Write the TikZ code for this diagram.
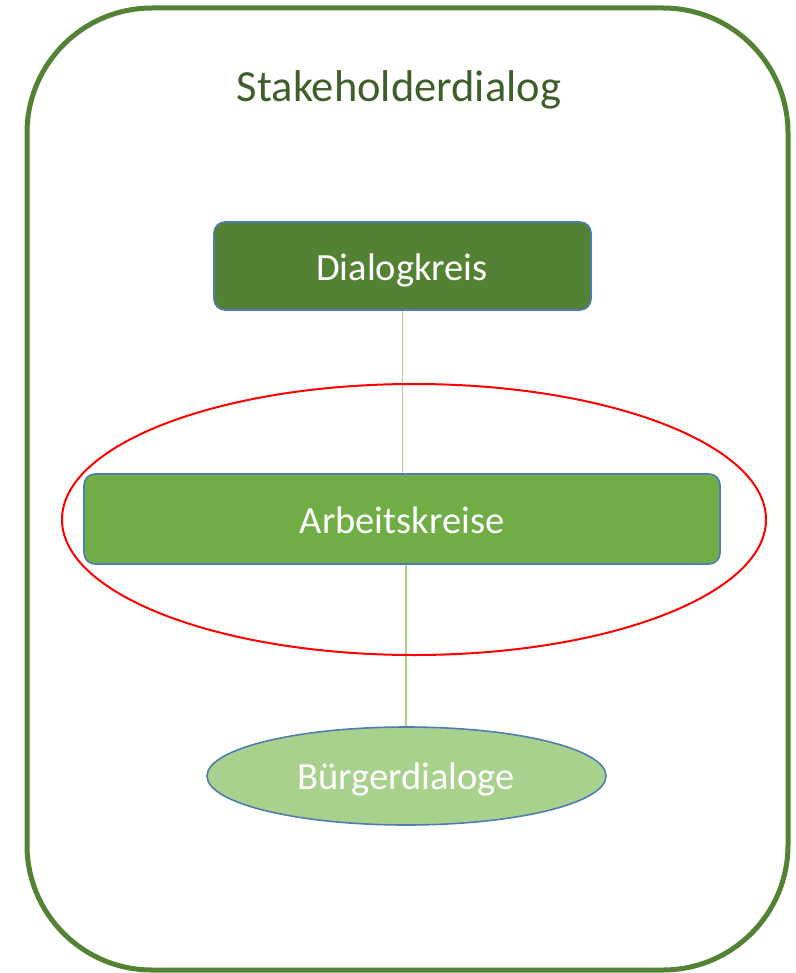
\documentclass[tikz,border=0pt]{standalone}
\usepackage{fontspec}
\setmainfont{Carlito}
\usetikzlibrary{shapes.geometric}
\definecolor{frame}{HTML}{548235}
\definecolor{titlegreen}{HTML}{3E5F2A}
\definecolor{darkfill}{HTML}{548235}
\definecolor{midfill}{HTML}{70AD47}
\definecolor{lightfill}{HTML}{A9D18E}
\definecolor{edgeblue}{HTML}{4F7DB0}
\definecolor{linkgreen}{HTML}{A9D18E}
\tikzset{
  levelbox/.style={draw=edgeblue, line width=1.6pt, rounded corners=11pt, inner sep=0pt},
  citizen/.style={ellipse, draw=edgeblue, line width=1.6pt, fill=lightfill, inner sep=0pt},
  boxtext/.style={text=white, font=\fontsize{38.5}{44}\selectfont, anchor=base},
  link/.style={draw=linkgreen, line width=1.8pt},
  focus/.style={ellipse, draw=red, line width=2pt, inner sep=0pt}
}
\begin{document}
\begin{tikzpicture}[x=1pt, y=-1pt]
  \useasboundingbox (0,0) rectangle (795,973);
  % outer frame
  \draw[frame, line width=5pt, rounded corners=125pt] (27,8) rectangle (788,970);
  \node[text=titlegreen, font=\fontsize{44.5}{52}\selectfont, anchor=base] (title) at (399,101.5) {Stakeholderdialog};

  % hierarchy levels
  \node[levelbox, fill=darkfill, minimum width=377pt, minimum height=88pt] (kreis) at (402.5,266) {};
  \node[boxtext] (kreislabel) at (402,280.5) {Dialogkreis};

  \node[levelbox, fill=midfill, minimum width=636pt, minimum height=90pt] (arbeit) at (402,519) {};
  \node[boxtext] (arbeitlabel) at (402,533) {Arbeitskreise};

  \node[citizen, minimum width=399pt, minimum height=98pt] (buerger) at (406.5,776) {};
  \node[boxtext] (buergerlabel) at (406,789) {Bürgerdialoge};

  % connectors
  \draw[link] (kreis.south) coordinate (k1) -- (k1 |- arbeit.north);
  \draw[link] ([xshift=4pt]arbeit.south) coordinate (a1) -- (a1 |- buerger.north);

  % highlight around the working groups
  \node[focus, minimum width=704pt, minimum height=271pt] (mark) at (414,519.5) {};
\end{tikzpicture}
\end{document}
